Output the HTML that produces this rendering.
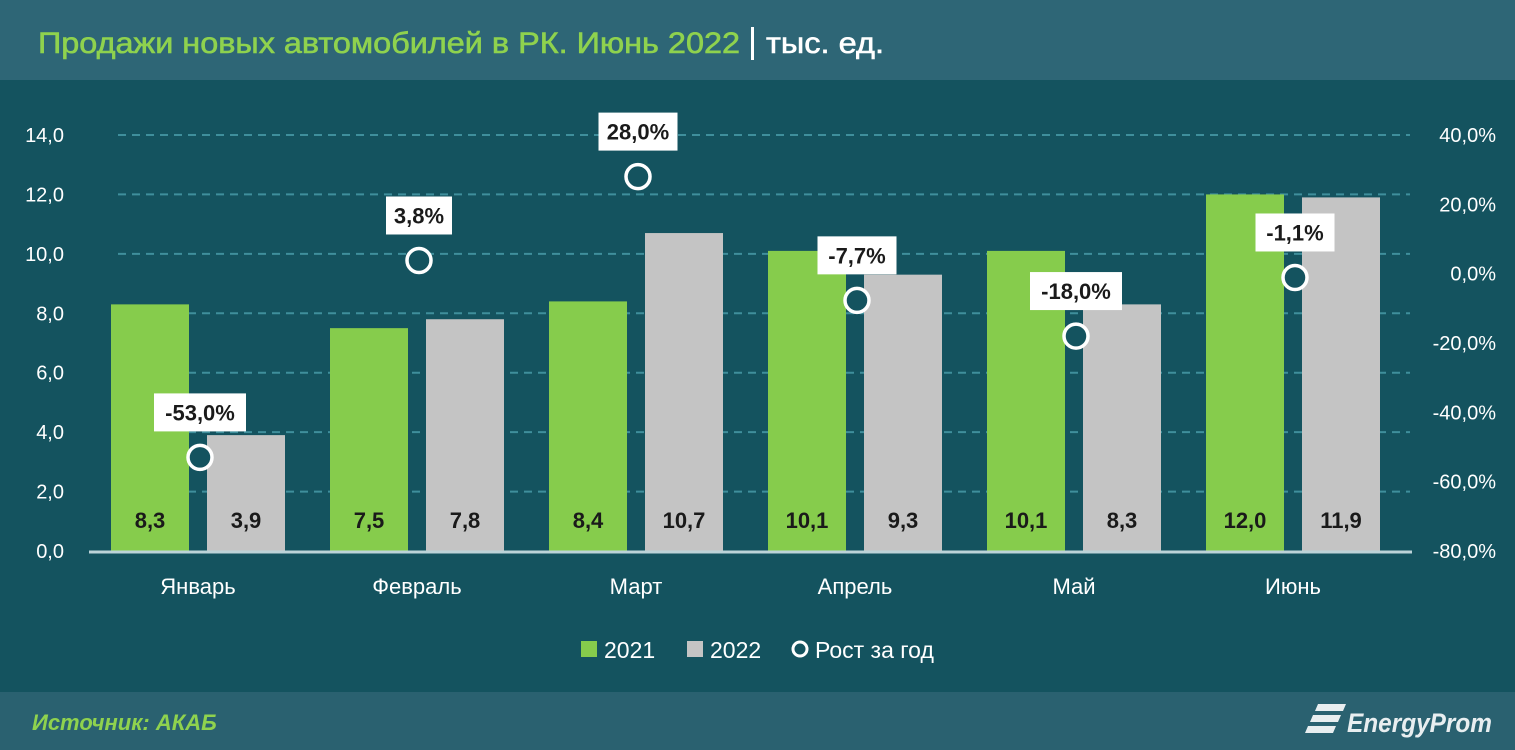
<!DOCTYPE html>
<html><head><meta charset="utf-8"><style>
body{margin:0;background:#14535f;}
svg{display:block;font-family:"Liberation Sans",sans-serif;}
</style></head><body>
<svg id="chart" width="1515" height="750" viewBox="0 0 1515 750">
<rect x="0" y="0" width="1515" height="80" fill="#2e6676"/>
<rect x="0" y="80" width="1515" height="612" fill="#14535f"/>
<rect x="0" y="692" width="1515" height="58" fill="#2a6170"/>
<text x="38" y="53" font-size="30" fill="#8fd24e" stroke="#8fd24e" stroke-width="0.6" textLength="702" lengthAdjust="spacingAndGlyphs">Продажи новых автомобилей в РК. Июнь 2022</text>
<rect x="751" y="27" width="3" height="33" fill="#ffffff"/>
<text x="766" y="53" font-size="30" fill="#ffffff" stroke="#fff" stroke-width="0.6" textLength="118" lengthAdjust="spacingAndGlyphs">тыс. ед.</text>
<g id="grid"></g><g id="bars"></g><g id="points"></g><g id="axes"></g>
<g>
<rect x="581" y="641" width="16" height="16" fill="#86cc4c"/>
<text x="604" y="658" font-size="23" fill="#fff">2021</text>
<rect x="687" y="641" width="16" height="16" fill="#c4c4c4"/>
<text x="710" y="658" font-size="23" fill="#fff">2022</text>
<circle cx="800" cy="649" r="7" fill="#14535f" stroke="#fff" stroke-width="3"/>
<text x="815" y="658" font-size="23" fill="#fff">Рост за год</text>
</g>
<text x="32" y="730" font-size="22" font-style="italic" font-weight="bold" fill="#8fd24e">Источник: АКАБ</text>
<g>
<path d="M1318 704 h28 l-3 7 h-28 z M1313 715 h28 l-3 7 h-28 z M1308 726 h28 l-3 7 h-28 z" fill="#e8eef0"/>
<text x="1347" y="732" font-size="27" font-style="italic" font-weight="bold" fill="#e8eef0" textLength="145" lengthAdjust="spacingAndGlyphs">EnergyProm</text>
</g>
</svg>
<script>
const categories=["Январь","Февраль","Март","Апрель","Май","Июнь"];
const sales2021=[8.3,7.5,8.4,10.1,10.1,12.0];
const sales2022=[3.9,7.8,10.7,9.3,8.3,11.9];
const growth=[-53.0,3.8,28.0,-7.7,-18.0,-1.1];
const leftTicks=[0,2,4,6,8,10,12,14];
const rightTicks=[-80,-60,-40,-20,0,20,40];
const NS="http://www.w3.org/2000/svg";
const y0=551,yTop=135;
const yL=v=>y0-(v/14)*(y0-yTop);
const yR=v=>y0-((v+80)/120)*(y0-yTop);
const xC=i=>198+i*219;
const fmt=(v,d)=>v.toFixed(d).replace('.',',');
function mk(tag,attrs,parent,txt){const e=document.createElementNS(NS,tag);for(const k in attrs)e.setAttribute(k,attrs[k]);if(txt!==undefined)e.textContent=txt;document.getElementById(parent).appendChild(e);return e;}
leftTicks.forEach(t=>{
  if(t>0){const l=mk('line',{x1:118,x2:1410,y1:yL(t),y2:yL(t),stroke:'#3f8f9c','stroke-width':2,'stroke-dasharray':'8 6'},'grid');
  
  }
  const tx=mk('text',{x:64,y:yL(t)+7,'font-size':20,fill:'#fff','text-anchor':'end'},'axes',fmt(t,1));
  
  
});
rightTicks.forEach(t=>{
  const tx=mk('text',{x:1496,y:yR(t)+7,'font-size':20,fill:'#fff','text-anchor':'end'},'axes',fmt(t,1)+'%');
  
  
});
const ax=mk('line',{x1:89,x2:1412,y1:y0+1,y2:y0+1,stroke:'#bcd3d8','stroke-width':3},'axes');


categories.forEach((c,i)=>{
  const cx=xC(i);
  [[sales2021[i],cx-87,'#86cc4c','bar-2021'],[sales2022[i],cx+9,'#c4c4c4','bar-2022']].forEach(([v,x,col,nm])=>{
    const r=mk('rect',{x:x,y:yL(v),width:78,height:y0-yL(v),fill:col},'bars');
    
    
    const t=mk('text',{x:x+39,y:528,'font-size':22,'font-weight':'bold',fill:'#1a1a1a','text-anchor':'middle'},'bars',fmt(v,1));
    
    
  });
  const cl=mk('text',{x:cx,y:594,'font-size':22,fill:'#fff','text-anchor':'middle'},'axes',c);
  
  
  const py=yR(growth[i]);
  const lbl=fmt(growth[i],1)+'%';
  const w=lbl.length*13+14;
  const b=mk('rect',{x:cx-w/2+2,y:py-64,width:w,height:38,fill:'#fff'},'points');
  
  
  const gt=mk('text',{x:cx+2,y:py-37,'font-size':22,'font-weight':'bold',fill:'#1a1a1a','text-anchor':'middle'},'points',lbl);
  
  
  const p=mk('circle',{cx:cx+2,cy:py,r:12,fill:'#14535f',stroke:'#fff','stroke-width':3.5},'points');
  
  
});
</script>
</body></html>
